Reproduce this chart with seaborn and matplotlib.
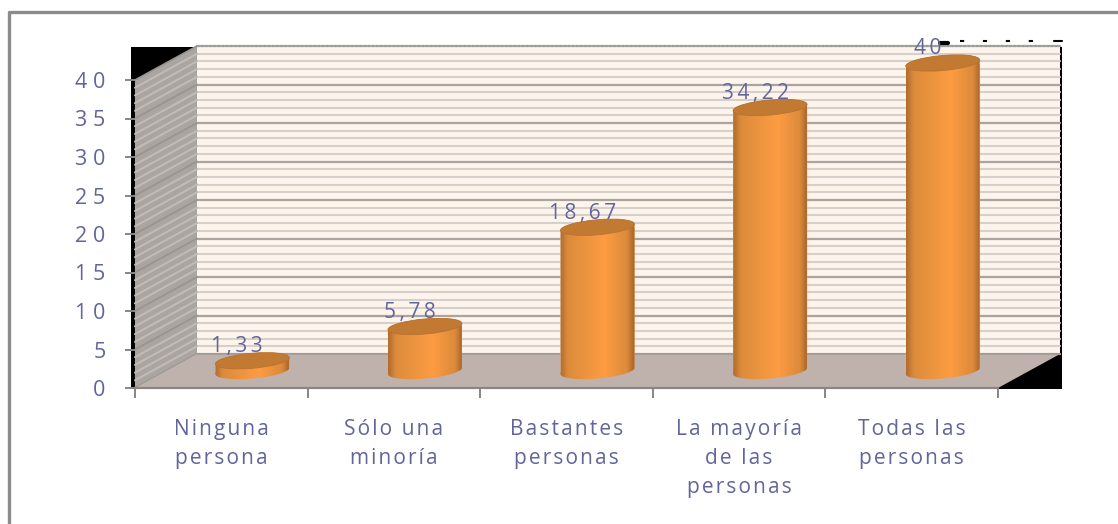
import numpy as np
import pandas as pd
import matplotlib
matplotlib.use('Agg')
import matplotlib.pyplot as plt
import seaborn as sns
from matplotlib.colors import LinearSegmentedColormap
from matplotlib.lines import Line2D
from matplotlib.patches import Ellipse, Polygon, Rectangle
from matplotlib.path import Path
from matplotlib.transforms import Affine2D, IdentityTransform

categories = ['Ninguna\npersona', 'Sólo una\nminoría', 'Bastantes\npersonas',
              'La mayoría\nde las\npersonas', 'Todas las\npersonas']
values = [1.33, 5.78, 18.67, 34.22, 40]
value_labels = ['1,33', '5,78', '18,67', '34,22', '40']
y_ticks = [0, 5, 10, 15, 20, 25, 30, 35, 40]

TEXT = '#62659c'
GRAY = '#868686'
W, H = 1118, 524

sns.set_theme(style='white')
plt.rcParams['font.family'] = ['Open Sans', 'DejaVu Sans']


def spaced(s, sep='\u200a'):
    # the original text is widely tracked
    return '\n'.join(sep.join(line) for line in s.split('\n'))


def px(x, y):
    return x, H - y


fig = plt.figure(figsize=(W / 100, H / 100), dpi=100, facecolor='white')
ax = fig.add_axes([135 / W, 1 - 388 / H, (998 - 135) / W, (388 - 80) / H])
ax.patch.set_visible(False)

df = pd.DataFrame({'cat': categories, 'val': values})
sns.barplot(data=df, x='cat', y='val', ax=ax, width=0.43, color='#e88b35', saturation=1)
ax.set_xlim(-0.5, 4.5)
ax.set_ylim(0, 40)
ax.set_xlabel('')
ax.set_ylabel('')

# depth of the fake 3d box, in pixels
depth = Affine2D().translate(62, 34)
mid = Affine2D().translate(31, 17)
wall_tr = ax.transData + depth
bar_tr = ax.transData + mid
ident = IdentityTransform()

fig.canvas.draw()


def add(artist, z):
    artist.set_zorder(z)
    artist.set_clip_on(False)
    ax.add_artist(artist)
    return artist


# frame of the picture
fig.add_artist(Line2D([9 / W, 9 / W, 1], [0, 1 - 12 / H, 1 - 12 / H], color='#8c8c8c', lw=2.4))

# black backing that shows around the box
add(Rectangle(px(131, 389), 931, 342, fc='black', ec='none', transform=ident), 0)

# back wall
add(Rectangle((-0.5, 0), 5, 40, fc='#fdf4ec', ec='none', transform=wall_tr), 1)
for v in range(0, 41):
    major = v in y_ticks
    add(Line2D([-0.5, 4.5], [v, v], transform=wall_tr,
               color='#aaa4a0' if major else '#d6d0cc', lw=1.6 if major else 1.5), 2)
add(Line2D([-0.5, 4.5], [40, 40], transform=wall_tr, color='#9a9a9a', lw=1.5, ls=(0, (1, 1))), 3)

# side wall and floor
p00 = ax.transData.transform((-0.5, 0))
p10 = ax.transData.transform((4.5, 0))
p01 = ax.transData.transform((-0.5, 40))
d = np.array([62, 34])
add(Polygon([p00, p01, p01 + d, p00 + d], fc='#aaa5a0', ec='none', transform=ident), 3)
for v in range(0, 41):
    a = ax.transData.transform((-0.5, v))
    major = v in y_ticks
    add(Line2D([a[0], a[0] + 62], [a[1], a[1] + 34], transform=ident,
               color='#98938f' if major else '#c0bbb6', lw=1.2 if major else 1.5), 4)
add(Polygon([p00, p10, p10 + d, p00 + d], fc='#bfb2ad', ec='none', transform=ident), 4)
add(Line2D([p00[0] + 62, p10[0] + 62], [p00[1] + 34, p00[1] + 34], transform=ident,
           color='#a39a96', lw=1.2), 5)

# specks at the top right
add(Line2D([960, 1040], [H - 41, H - 41], transform=ident, color='black', lw=1.5, ls=(0, (2, 9))), 3)
add(Line2D([940, 948], [H - 43, H - 43], transform=ident, color='black', lw=3), 3)
add(Line2D([1054, 1062], [H - 41, H - 41], transform=ident, color='black', lw=1.5), 3)

# cylinders on top of the seaborn bars
side = LinearSegmentedColormap.from_list('side', [(0, '#b36c2e'), (0.1, '#dc8c3c'), (0.6, '#fd9c42'),
                                                  (0.9, '#dc8a3b'), (1, '#a8642b')])
b_, ang = 7.5, np.deg2rad(5)
for patch, val, label in zip(ax.patches, values, value_labels):
    xc = patch.get_x() + patch.get_width() / 2
    bot = np.array(bar_tr.transform((xc, 0)))
    top = np.array(bar_tr.transform((xc, val)))
    a_ = abs(bar_tr.transform((patch.get_x() + patch.get_width(), 0))[0] - bot[0])

    def arc(c, t):
        ex, ey = a_ * np.cos(t), b_ * np.sin(t)
        return np.c_[c[0] + ex * np.cos(ang) - ey * np.sin(ang), c[1] + ex * np.sin(ang) + ey * np.cos(ang)]

    pts = np.vstack([arc(bot, np.linspace(np.pi, 2 * np.pi, 40)), arc(top, np.linspace(0, np.pi, 40))])
    outline = Path(np.vstack([pts, pts[0]]), closed=True)

    patch.set_transform(bar_tr)
    patch.set_zorder(6)
    patch.set_clip_box(fig.bbox)
    patch.set_clip_path(outline, ident)

    im = ax.imshow(np.linspace(0, 1, 80).reshape(1, -1), cmap=side, aspect='auto', zorder=7,
                   extent=(bot[0] - a_, bot[0] + a_, bot[1] - 15, top[1] + 15),
                   transform=ident, interpolation='bilinear')
    im.set_clip_box(fig.bbox)
    im.set_clip_path(outline, ident)

    add(Ellipse(top, 2 * a_, 2 * b_, angle=5, fc='#c27a33', ec='#b87230', lw=0.6, transform=ident), 8)

    ax.annotate(spaced(label, '\u2009'), xy=top, xycoords='figure pixels',
                xytext=(-15 * 0.72, 14 * 0.72), textcoords='offset points', ha='center', va='center',
                color=TEXT, fontsize=15, zorder=9, annotation_clip=False)

ax.set_xlim(-0.5, 4.5)
ax.set_ylim(0, 40)

# axes
sns.despine(ax=ax, left=True, top=True, right=True)
ax.spines['bottom'].set_color(GRAY)
ax.spines['bottom'].set_linewidth(1.6)
ax.spines['bottom'].set_zorder(6)
ax.set_yticks(y_ticks)
ax.set_yticklabels([spaced(str(t), '\u2009\u200a') for t in y_ticks])
ax.tick_params(axis='y', length=7.2, width=1.4, color=GRAY, left=True, pad=14,
               labelcolor=TEXT, labelsize=15.5)
ax.set_xticks(range(5))
ax.set_xticklabels([spaced(c) for c in categories], linespacing=1.5)
ax.set_xticks(np.arange(-0.5, 5), minor=True)
ax.tick_params(axis='x', which='major', length=0, pad=22, labelcolor=TEXT, labelsize=15)
ax.tick_params(axis='x', which='minor', length=7.2, width=1.4, color=GRAY, bottom=True)
ax.grid(False)

fig.savefig('out.png', dpi=100)
